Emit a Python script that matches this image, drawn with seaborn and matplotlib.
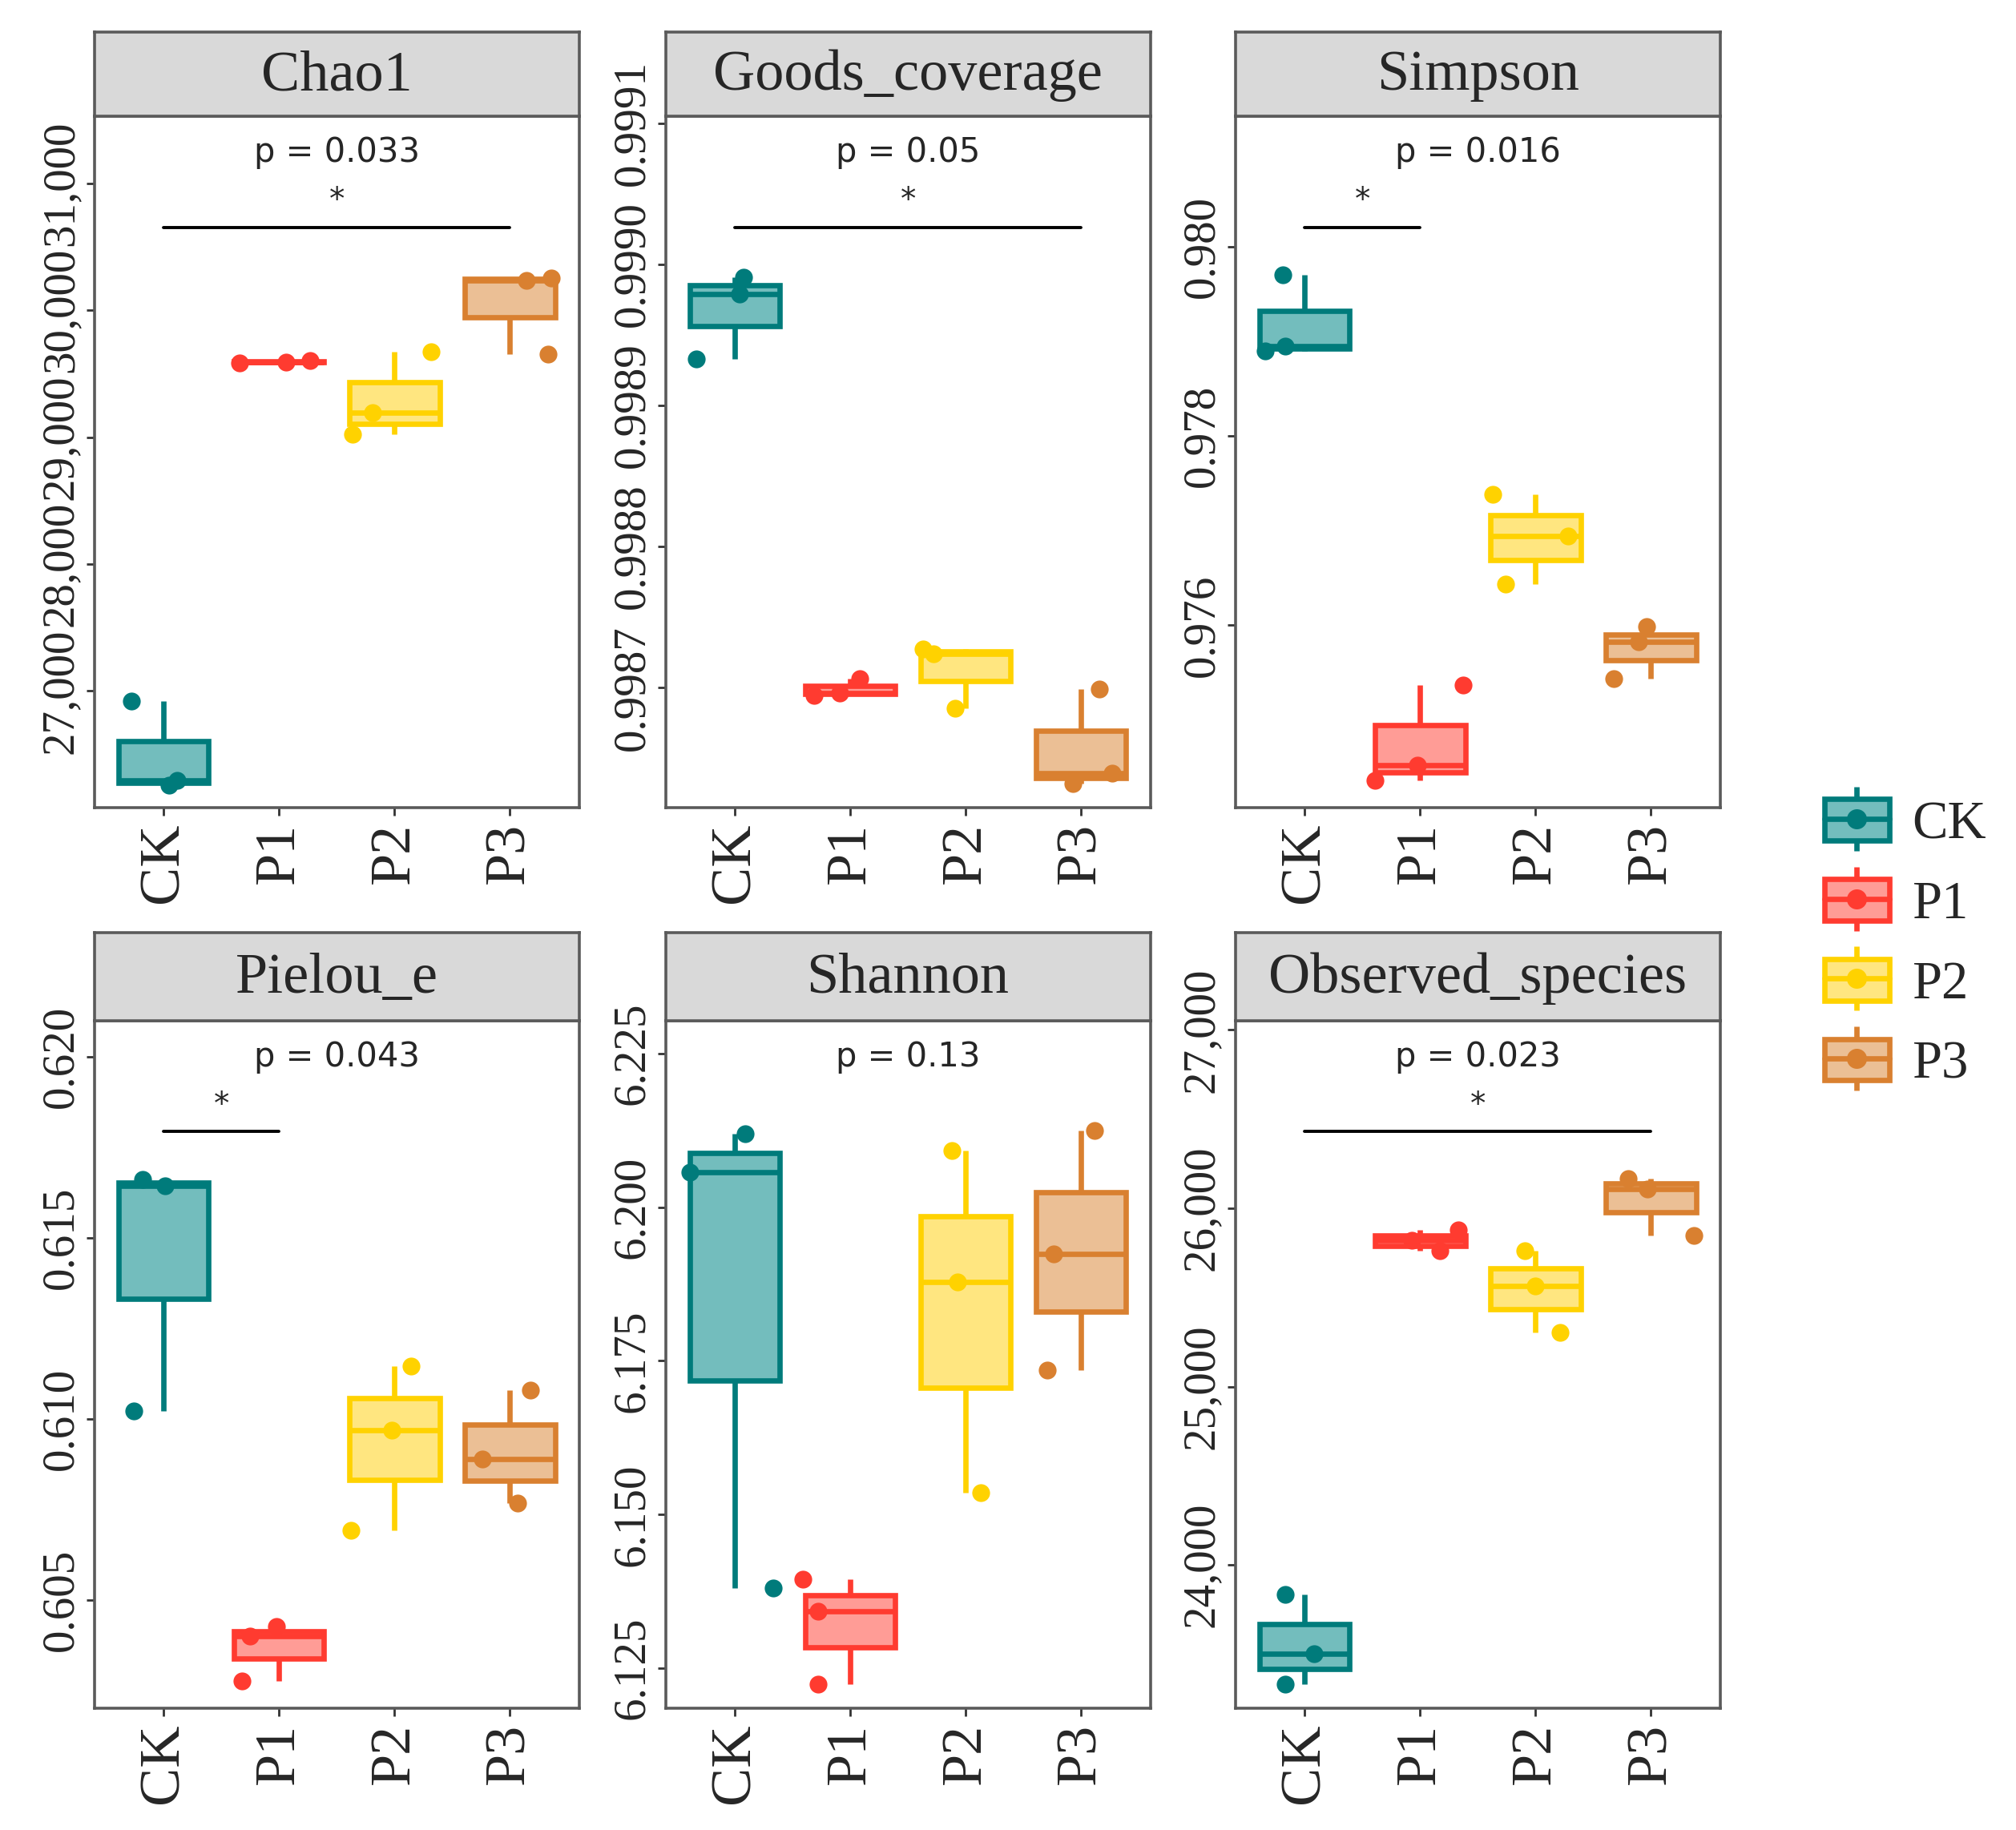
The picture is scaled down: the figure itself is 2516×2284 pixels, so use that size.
import numpy as np
import pandas as pd
import matplotlib
matplotlib.use('Agg')
import matplotlib.pyplot as plt
import matplotlib.transforms as mtransforms
from matplotlib.lines import Line2D
from matplotlib.patches import Patch
from matplotlib.legend_handler import HandlerTuple
import seaborn as sns

# ---- data (3 replicates per group) ----
GROUPS = ['CK', 'P1', 'P2', 'P3']
METRICS = ['Chao1', 'Goods_coverage', 'Simpson', 'Pielou_e', 'Shannon', 'Observed_species']

CHAO1 = [[26918, 26296, 26256],
         [29585, 29592, 29605],
         [29020, 29194, 29673],
         [30235, 30255, 29653]]
GOODS = [[0.998933, 0.998979, 0.998991],
         [0.9986945, 0.9986963, 0.9987064],
         [0.9987275, 0.9987239, 0.9986853],
         [0.9986991, 0.9986321, 0.9986395]]
SIMPSON = [[0.979700, 0.978949, 0.978894],
           [0.975372, 0.974526, 0.974362],
           [0.977379, 0.976942, 0.976437],
           [0.975986, 0.975823, 0.975440]]
PIELOU = [[0.616607, 0.616429, 0.610214],
          [0.604250, 0.604000, 0.602750],
          [0.611464, 0.609679, 0.606929],
          [0.610786, 0.608893, 0.607679]]
SHANNON = [[6.21198, 6.20567, 6.13803],
           [6.13950, 6.13424, 6.12248],
           [6.20924, 6.18782, 6.15357],
           [6.21239, 6.19244, 6.17353]]
OBSERVED = [[23833, 23500, 23333],
            [25877, 25819, 25761],
            [25761, 25565, 25304],
            [26167, 26109, 25848]]

P_LABELS = ['p = 0.033', 'p = 0.05', 'p = 0.016', 'p = 0.043', 'p = 0.13', 'p = 0.023']
SIG_PAIRS = [(0, 3), (0, 3), (0, 1), (0, 1), None, (0, 3)]

Y_TICKS = [[27000, 28000, 29000, 30000, 31000],
           [0.9987, 0.9988, 0.9989, 0.9990, 0.9991],
           [0.976, 0.978, 0.980],
           [0.605, 0.610, 0.615, 0.620],
           [6.125, 6.150, 6.175, 6.200, 6.225],
           [24000, 25000, 26000, 27000]]
Y_FORMATS = ['{:,.0f}', '{:.4f}', '{:.3f}', '{:.3f}', '{:.3f}', '{:,.0f}']

# ---- style ----
LINE_COLORS = {'CK': '#007B7B', 'P1': '#FF3B30', 'P2': '#FFD200', 'P3': '#D98030'}
FILL_COLORS = {'CK': '#73BDBD', 'P1': '#FF9C96', 'P2': '#FFE680', 'P3': '#EBBF95'}

# horizontal jitter of the replicate points (fraction of category width)
JITTER = [
    [[-0.28, 0.12, 0.05], [-0.34, 0.06, 0.27], [-0.36, -0.19, 0.32], [0.14, 0.36, 0.33]],
    [[-0.33, 0.04, 0.08], [-0.31, -0.09, 0.08], [-0.37, -0.28, -0.09], [0.16, -0.07, 0.27]],
    [[-0.19, -0.17, -0.34], [0.37, -0.02, -0.39], [-0.37, 0.28, -0.26], [-0.04, -0.11, -0.32]],
    [[-0.18, 0.01, -0.26], [-0.02, -0.25, -0.32], [0.14, -0.02, -0.38], [0.18, -0.24, 0.07]],
    [[0.09, -0.39, 0.33], [-0.41, -0.28, -0.28], [-0.12, -0.07, 0.13], [0.12, -0.24, -0.29]],
    [[-0.17, 0.08, -0.17], [0.33, -0.07, 0.17], [-0.09, 0.0, 0.21], [-0.2, -0.03, 0.37]],
]
Y_LIMITS = [(26082, 31530), (0.998615, 0.999105), (0.974075, 0.981379),
            (0.602, 0.621), (6.1185, 6.2303), (23196, 27051)]

SERIF = 'Liberation Serif'
SANS = 'DejaVu Sans'
FRAME = '#5a5a5a'

sns.set_style('white')
plt.rcParams['font.family'] = [SERIF, 'DejaVu Serif']

METRIC_VALUES = [CHAO1, GOODS, SIMPSON, PIELOU, SHANNON, OBSERVED]
rows = []
for metric, values in zip(METRICS, METRIC_VALUES):
    for g, vals in zip(GROUPS, values):
        for v in vals:
            rows.append({'metric': metric, 'group': g, 'value': v})
df = pd.DataFrame(rows)

fig = plt.figure(figsize=(12.58, 11.42), dpi=200)

col_left = [0.0468, 0.3301, 0.6128]
panel_w = 0.2405
row_axes = [(0.5587, 0.3779), (0.0665, 0.3757)]
row_strip = [(0.9365, 0.0460), (0.4422, 0.0482)]

for i, metric in enumerate(METRICS):
    r, c = divmod(i, 3)
    ax = fig.add_axes([col_left[c], row_axes[r][0], panel_w, row_axes[r][1]])
    sax = fig.add_axes([col_left[c], row_strip[r][0], panel_w, row_strip[r][1]])

    sub = df[df['metric'] == metric]
    for gi, g in enumerate(GROUPS):
        gdf = sub[sub['group'] == g]
        sns.boxplot(data=gdf, x='group', y='value', order=GROUPS, ax=ax,
                    color=FILL_COLORS[g], linecolor=LINE_COLORS[g], saturation=1,
                    linewidth=2.4, width=0.78, showfliers=False, showcaps=False)
    for gi, g in enumerate(GROUPS):
        gdf = sub[sub['group'] == g]
        n_before = len(ax.collections)
        sns.stripplot(data=gdf, x='group', y='value', order=GROUPS, ax=ax,
                      color=LINE_COLORS[g], jitter=False, size=8, linewidth=0,
                      zorder=4)
        for coll in ax.collections[n_before:]:
            off = np.asarray(coll.get_offsets(), dtype=float)
            if len(off) == 3:
                off = off.copy()
                off[:, 0] = off[:, 0] + np.array(JITTER[i][gi])
                coll.set_offsets(off)

    ax.set_xlim(-0.6, 3.6)
    ax.set_ylim(*Y_LIMITS[i])
    ax.set_yticks(Y_TICKS[i])
    ax.set_yticklabels([Y_FORMATS[i].format(t) for t in Y_TICKS[i]])
    ax.set_xlabel('')
    ax.set_ylabel('')
    ax.tick_params(axis='y', labelrotation=90, labelsize=20.5, length=3.6,
                   width=1.0, color='#333333', pad=2, left=True)
    ax.tick_params(axis='x', labelrotation=90, labelsize=26, length=3.6,
                   width=1.0, color='#333333', pad=3, bottom=True)
    for lab in ax.get_yticklabels():
        lab.set_va('center')
    for sp in ax.spines.values():
        sp.set_visible(True)
        sp.set_color(FRAME)
        sp.set_linewidth(1.3)

    # significance annotation
    trans = mtransforms.blended_transform_factory(ax.transData, ax.transAxes)
    ax.text(1.5, 0.948, P_LABELS[i], transform=trans, ha='center', va='center',
            fontsize=15, family=SANS)
    if SIG_PAIRS[i] is not None:
        x0, x1 = SIG_PAIRS[i]
        ax.plot([x0, x1], [0.839, 0.839], transform=trans, color='black', lw=1.4)
        ax.text((x0 + x1) / 2, 0.878, '*', transform=trans, ha='center',
                va='center', fontsize=14, family=SANS)

    # facet strip
    sax.set_facecolor('#D9D9D9')
    sax.set_xticks([])
    sax.set_yticks([])
    for sp in sax.spines.values():
        sp.set_visible(True)
        sp.set_color(FRAME)
        sp.set_linewidth(1.3)
    sax.text(0.5, 0.48, metric, transform=sax.transAxes, ha='center',
             va='center', fontsize=26)

# legend
handles = []
for g in GROUPS:
    whisk = Line2D([], [], color=LINE_COLORS[g], marker='|', markersize=29,
                   markeredgewidth=2.4, linestyle='None')
    box = Patch(facecolor=FILL_COLORS[g], edgecolor=LINE_COLORS[g], linewidth=2.4)
    mid = Line2D([], [], color=LINE_COLORS[g], linewidth=2.4, marker='o',
                 markersize=8)
    handles.append((whisk, box, mid))
fig.legend(handles, GROUPS, handler_map={tuple: HandlerTuple(ndivide=1)},
           loc='center left', bbox_to_anchor=(0.905, 0.484), frameon=False,
           fontsize=24, handlelength=1.21, handleheight=0.82,
           handletextpad=0.43, labelspacing=0.55, borderpad=0, borderaxespad=0)

fig.savefig('out.png', dpi=200, facecolor='white')
